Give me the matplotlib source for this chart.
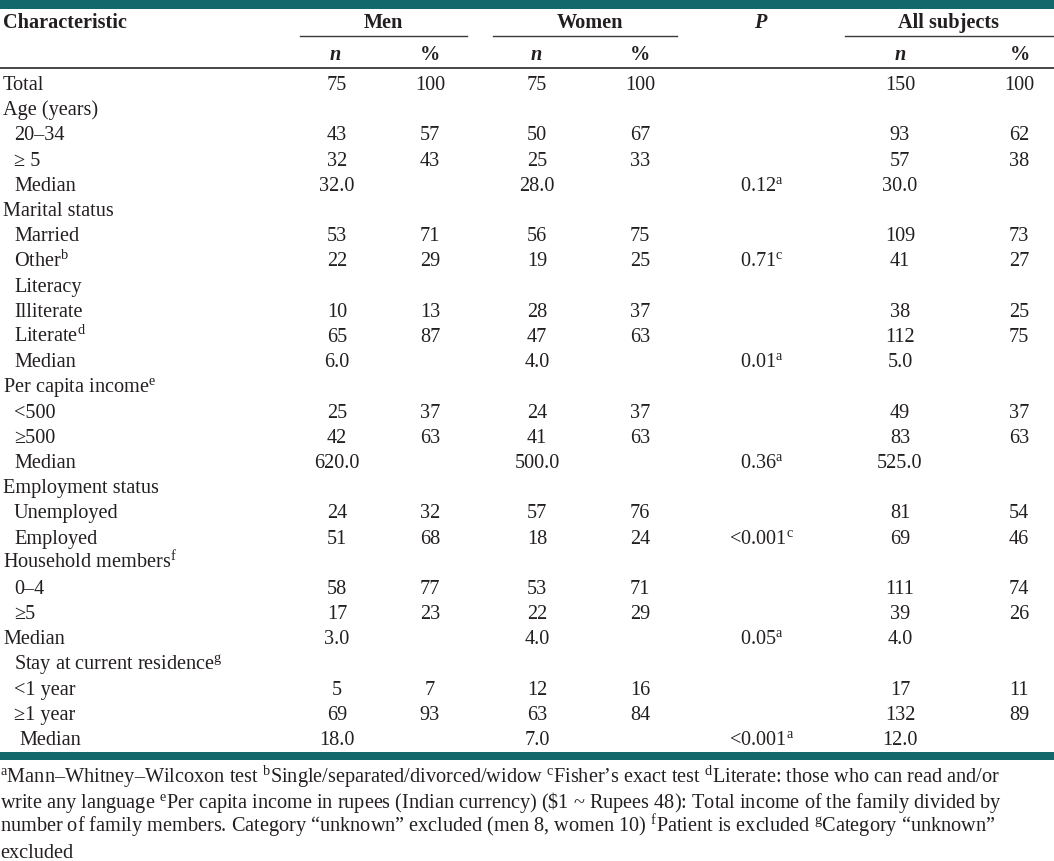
import matplotlib
matplotlib.use("Agg")
from matplotlib import pyplot as plt

plt.rcParams['font.family'] = ['Liberation Serif', 'DejaVu Serif']
plt.rcParams['mathtext.fontset'] = 'custom'
plt.rcParams['mathtext.rm'] = 'Liberation Serif'
plt.rcParams['mathtext.it'] = 'Liberation Serif:italic'
plt.rcParams['mathtext.bf'] = 'Liberation Serif:bold'

# table content
labels = ["Total", "Age (years)", "20–34", "≥ 5", "Median", "Marital status",
          "Married", r"Other$^{\mathrm{b}}$", "Literacy", "Illiterate",
          r"Literate$^{\mathrm{d}}$", "Median", r"Per capita income$^{\mathrm{e}}$",
          "<500", "≥500", "Median", "Employment status", "Unemployed", "Employed",
          r"Household members$^{\mathrm{f}}$", "0–4", "≥5", "Median",
          r"Stay at current residence$^{\mathrm{g}}$", "<1 year", "≥1 year", "Median"]
indent = [0, 0, 1, 1, 1, 0, 1, 1, 1, 1, 1, 1, 0, 1, 1, 1, 0, 1, 1, 0, 1, 1, 0, 1, 1, 1, 2]

men_n = ["75", "", "43", "32", "32.0", "", "53", "22", "", "10", "65", "6.0", "",
         "25", "42", "620.0", "", "24", "51", "", "58", "17", "3.0", "", "5", "69", "18.0"]
men_pct = ["100", "", "57", "43", "", "", "71", "29", "", "13", "87", "", "",
           "37", "63", "", "", "32", "68", "", "77", "23", "", "", "7", "93", ""]
women_n = ["75", "", "50", "25", "28.0", "", "56", "19", "", "28", "47", "4.0", "",
           "24", "41", "500.0", "", "57", "18", "", "53", "22", "4.0", "", "12", "63", "7.0"]
women_pct = ["100", "", "67", "33", "", "", "75", "25", "", "37", "63", "", "",
             "37", "63", "", "", "76", "24", "", "71", "29", "", "", "16", "84", ""]
p_val = ["", "", "", "", r"0.12$^{\mathrm{a}}$", "", "", r"0.71$^{\mathrm{c}}$", "", "", "",
         r"0.01$^{\mathrm{a}}$", "", "", "", r"0.36$^{\mathrm{a}}$", "", "", r"<0.001$^{\mathrm{c}}$",
         "", "", "", r"0.05$^{\mathrm{a}}$", "", "", "", r"<0.001$^{\mathrm{a}}$"]
all_n = ["150", "", "93", "57", "30.0", "", "109", "41", "", "38", "112", "5.0", "",
         "49", "83", "525.0", "", "81", "69", "", "111", "39", "4.0", "", "17", "132", "12.0"]
all_pct = ["100", "", "62", "38", "", "", "73", "27", "", "25", "75", "", "",
           "37", "63", "", "", "54", "46", "", "74", "26", "", "", "11", "89", ""]

footnotes = [
    r"$^{\mathrm{a}}$Mann–Whitney–Wilcoxon test $^{\mathrm{b}}$Single/separated/divorced/widow "
    r"$^{\mathrm{c}}$Fisher’s exact test $^{\mathrm{d}}$Literate: those who can read and/or",
    r"write any language $^{\mathrm{e}}$Per capita income in rupees (Indian currency) "
    r"(\$1 ~ Rupees 48): Total income of the family divided by",
    r"number of family members. Category “unknown” excluded (men 8, women 10) "
    r"$^{\mathrm{f}}$Patient is excluded $^{\mathrm{g}}$Category “unknown”",
    "excluded",
]

W, H = 1054, 861
teal = '#12686a'
ink = '#231f20'
fs = 14.6

fig = plt.figure(figsize=(W / 100, H / 100), dpi=100)
ax = fig.add_axes([0, 0, 1, 1])
ax.set_xlim(0, W)
ax.set_ylim(H, 0)
ax.axis('off')

# rules
ax.fill_between([0, W], 0, 9, color=teal, lw=0)
ax.fill_between([0, W], 752, 760, color=teal, lw=0)
ax.plot([0, W], [67.5, 67.5], color='#3a3a3a', lw=1.3)
for x0, x1 in [(300, 467), (493, 677), (845, W)]:
    ax.plot([x0, x1], [36, 36], color='#3a3a3a', lw=1.0)

# header
ax.text(3, 28, "Characteristic", fontsize=fs, fontweight='bold', color=ink, va='baseline')
for x, t in [(383, "Men"), (590, "Women"), (948, "All subjects")]:
    ax.text(x, 28, t, fontsize=fs, fontweight='bold', color=ink, va='baseline', ha='center')
ax.text(760, 28, "P", fontsize=fs, fontweight='bold', style='italic', color=ink,
        va='baseline', ha='center')
for x in [335, 536, 900]:
    ax.text(x, 60, "n", fontsize=fs, fontweight='bold', style='italic', color=ink,
            va='baseline', ha='center')
for x in [430, 640, 1020]:
    ax.text(x, 60, "%", fontsize=fs, fontweight='bold', color=ink, va='baseline', ha='center')

# body
indent_x = [3, 14, 19]
cols = [(337, men_n), (430, men_pct), (537, women_n), (640, women_pct),
        (762, p_val), (900, all_n), (1019, all_pct)]
for i, lab in enumerate(labels):
    y = 90 + i * 25.2
    ax.text(indent_x[indent[i]], y, lab, fontsize=fs, color=ink, va='baseline')
    for x, col in cols:
        if col[i]:
            ax.text(x, y, col[i], fontsize=fs, color=ink, va='baseline', ha='center')

for j, line in enumerate(footnotes):
    ax.text(0, 783 + j * 25, line, fontsize=fs, color=ink, va='baseline')

fig.savefig('out.png', dpi=100)
